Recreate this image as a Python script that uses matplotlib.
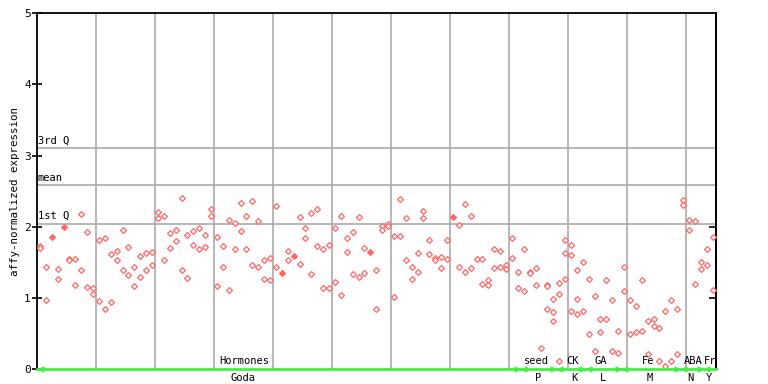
import matplotlib
matplotlib.use("Agg")
from matplotlib import pyplot as plt

# replicate values per sample (None = no point)
rep1 = [1.73, 1.44, 1.85, 1.40, 2.00, 1.55, 1.54, 2.18, 1.92, 1.14,
        1.81, 1.84, 1.61, 1.66, 1.95, 1.71, 1.44, 1.59, 1.63, 1.64,
        2.20, 2.15, 1.91, 1.96, 2.40, 1.89, 1.94, 1.98, 1.88, 2.25,
        1.85, 1.73, 2.09, 2.05, 2.33, 2.15, 2.36, 2.08, 1.53, 1.56,
        2.29, 1.35, 1.66, 1.59, 2.13, 1.98, 2.19, 2.25, 1.68, 1.74,
        1.98, 2.15, 1.84, 1.92, 2.13, 1.70, 1.65, 1.39, 2.01, 2.04,
        1.87, 2.39, 2.12, 1.43, 1.63, 2.22, 1.81, 1.56, 1.57, 1.82,
        2.14, 2.02, 2.32, 2.15, 1.54, 1.54, 1.25, 1.68, 1.66, 1.46,
        1.84, 1.37, 1.68, 1.37, 1.42, 0.29, 1.18, 0.99, 1.21, 1.82,
        1.74, 1.39, 1.50, 1.26, 1.02, 0.70, 1.25, 0.97, 0.53, 1.44,
        0.97, 0.88, 1.25, 0.67, 0.70, 0.57, 0.81, 0.97, 0.85, 2.37,
        2.09, 2.08, 1.51, 1.68, 1.85]
rep2 = [1.70, 0.97, None, 1.26, None, 1.53, 1.18, 1.39, 1.15, 1.06,
        0.95, 0.85, 0.94, 1.53, 1.39, 1.32, 1.16, 1.30, 1.39, 1.46,
        2.12, 1.53, 1.70, 1.80, 1.39, 1.28, 1.75, 1.68, 1.71, 2.15,
        1.16, 1.44, 1.11, 1.68, 1.94, 1.68, 1.46, 1.43, 1.26, 1.25,
        1.43, None, 1.53, None, 1.47, 1.84, 1.33, 1.73, 1.14, 1.14,
        1.22, 1.04, 1.64, 1.33, 1.30, 1.35, None, 0.85, 1.95, 2.01,
        1.01, 1.87, 1.53, 1.26, 1.36, 2.12, 1.61, 1.53, 1.42, 1.54,
        None, 1.44, 1.36, 1.42, None, 1.19, 1.18, 1.42, 1.43, 1.40,
        1.56, 1.14, 1.09, 1.35, 1.18, None, 1.16, 0.80, 1.06, 1.63,
        1.60, 0.98, 0.81, 0.49, 0.25, 0.52, 0.70, 0.25, 0.22, 1.09,
        0.49, 0.52, 0.54, 0.21, 0.61, 0.11, 0.04, 0.11, 0.21, 2.30,
        1.96, 1.19, 1.40, 1.46, 1.11]
rep3 = {86: 0.85, 87: 0.67, 88: 0.11, 89: 1.26, 90: 0.81, 91: 0.78}
filled = [2, 4, 41, 43, 56, 70]

quartiles = {"3rd Q": 3.1, "mean": 2.58, "1st Q": 2.04}

top_labels = ["Hormones", "seed", "CK", "GA", "Fe", "ABA", "Fr"]
top_pos = [35.2, 84.7, 90.7, 95.6, 103.6, 111.2, 114.1]
bot_labels = ["Goda", "P", "K", "L", "M", "N", "Y"]
bot_pos = [34.9, 84.9, 91.0, 95.9, 103.9, 110.8, 113.9]
bounds = [0, 82, 88, 93, 99, 109, 113, 115]

mono = "DejaVu Sans Mono"
red = "#ff6666"
green = "#44ee44"

fig = plt.figure(figsize=(7.68, 3.84), dpi=100)
ax = fig.add_axes([37 / 768, 15 / 384, 678.5 / 768, 355.7 / 384])

for x in range(10, 115, 10):
    ax.axvline(x, color="#aaaaaa", lw=1.2, zorder=1)
for name, y in quartiles.items():
    ax.axhline(y, color="#aaaaaa", lw=1.2, zorder=1)
    ax.text(0.15, y + 0.04, name, family=mono, fontsize=7.5, va="bottom", ha="left")

for k in range(len(rep1)):
    vals = [rep1[k], rep2[k], rep3.get(k)]
    for v in vals:
        if v is None:
            continue
        fc = red if k in filled else "white"
        ax.plot(k + 0.5, v, marker="D", ms=3.0, mfc=fc, mec=red, mew=0.9,
                ls="none", zorder=3)

# green group line along the bottom
ax.plot([0, 115], [0, 0], color=green, lw=2, clip_on=False, zorder=4)
for b in bounds[1:-1]:
    ax.plot(b - 0.6, 0, marker=">", ms=3.5, color=green, clip_on=False, zorder=4)
    ax.plot(b + 0.6, 0, marker="<", ms=3.5, color=green, clip_on=False, zorder=4)
ax.plot(0.6, 0, marker="<", ms=3.5, color=green, clip_on=False, zorder=4)

trans = ax.get_xaxis_transform()
for lab, x in zip(top_labels, top_pos):
    ax.text(x, 0.008, lab, transform=trans, family=mono, fontsize=7.5,
            ha="center", va="bottom", zorder=5)
for lab, x in zip(bot_labels, bot_pos):
    ax.text(x, -0.012, lab, transform=trans, family=mono, fontsize=7.5,
            ha="center", va="top")

ax.set_xlim(0, 115)
ax.set_ylim(0, 5)
ax.set_xticks([])
ax.set_yticks(range(6))
ax.set_yticklabels([str(i) for i in range(6)], family=mono, fontsize=8)
ax.tick_params(axis="y", direction="inout", length=7, width=1.2, pad=1)
ax.set_ylabel("affy-normalized expression", family=mono, fontsize=7.8, labelpad=3)

right = ax.secondary_yaxis("right")
right.set_yticks([1, 2])
right.set_yticklabels([])
right.tick_params(direction="in", length=5, width=1.2)
right.spines["right"].set_linewidth(1.3)

for s in ax.spines.values():
    s.set_linewidth(1.3)
ax.spines["bottom"].set_visible(False)

fig.savefig("out.png", dpi=100)
